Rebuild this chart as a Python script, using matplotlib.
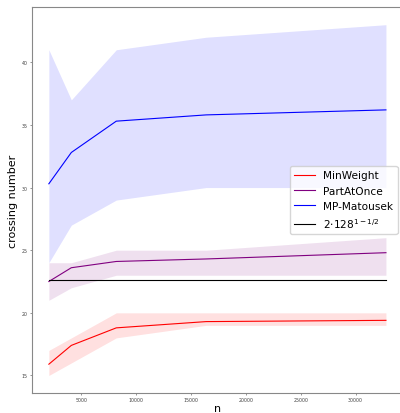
import matplotlib
matplotlib.use("Agg")
import matplotlib.pyplot as plt
import numpy as np

n = [2048, 4096, 8192, 16384, 32768]

minweight = [15.9, 17.4, 18.8, 19.3, 19.4]
minweight_lo = [15, 16, 18, 19, 19]
minweight_hi = [17, 18, 20, 20, 20]

partatonce = [22.5, 23.6, 24.1, 24.3, 24.8]
partatonce_lo = [21, 22, 23, 23, 23]
partatonce_hi = [24, 24, 25, 25, 26]

matousek = [30.3, 32.8, 35.3, 35.8, 36.2]
matousek_lo = [24, 27, 29, 30, 30]
matousek_hi = [41, 37, 41, 42, 43]

bound = 2 * 128 ** (1 - 1 / 2)

fig = plt.figure(figsize=(4.0, 4.14), dpi=100)
ax = fig.add_axes([0.08, 0.0483, 0.927, 0.932])

ax.plot(n, minweight, color="red", lw=0.8, label="MinWeight")
ax.fill_between(n, minweight_lo, minweight_hi, color="red", alpha=0.12, lw=0)
ax.plot(n, partatonce, color="purple", lw=0.8, label="PartAtOnce")
ax.fill_between(n, partatonce_lo, partatonce_hi, color="purple", alpha=0.12, lw=0)
ax.plot(n, matousek, color="blue", lw=0.8, label="MP-Matousek")
ax.fill_between(n, matousek_lo, matousek_hi, color="blue", alpha=0.12, lw=0)
ax.plot([n[0], n[-1]], [bound, bound], color="black", lw=0.8,
        label=r"$2{\cdot}128^{1-1/2}$")

ax.set_xticks([5000, 10000, 15000, 20000, 25000, 30000])
ax.set_yticks([15, 20, 25, 30, 35, 40])
ax.tick_params(labelsize=3.4, length=1.5, width=0.4, pad=1.5, colors="#444")
for s in ax.spines.values():
    s.set_color("#888")
    s.set_linewidth(0.8)

ax.set_xlabel("n", fontsize=8, labelpad=0.8)
ax.set_ylabel("crossing number", fontsize=8, labelpad=3)
ax.legend(loc="center right", fontsize=7.6)

fig.savefig("out.png", dpi=100)
